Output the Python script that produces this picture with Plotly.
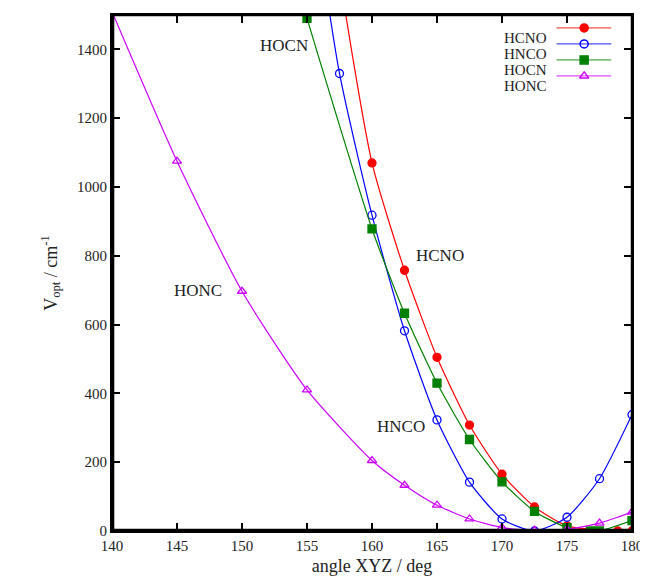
import plotly.graph_objects as go

# angle XYZ / deg and V_opt / cm-1
hcno_x = [155, 157.5, 160, 162.5, 165, 167.5, 170, 172.5, 175, 178.9, 180]
hcno_y = [2400, 1620, 1070, 758, 505, 308, 165, 70, 15, 0, 0]
hnco_x = [155, 157.5, 160, 162.5, 165, 167.5, 170, 172.5, 175, 177.5, 180]
hnco_y = [1950, 1330, 918, 582, 323, 142, 35, 0, 40, 152, 338]
hocn_x = [155, 160, 162.5, 165, 167.5, 170, 172.5, 175, 176.8, 177.5, 180]
hocn_y = [1490, 878, 633, 430, 266, 143, 57, 10, 0, 0, 30]
honc_x = [140, 145, 150, 155, 160, 162.5, 165, 167.5, 170, 172.5, 175, 177.5, 180]
honc_y = [1510, 1075, 697, 410, 205, 133, 75, 35, 10, 2, 5, 23, 55]

font = "Liberation Serif"
tc = "#222"
fig = go.Figure()
series = [
    ("HCNO", hcno_x, hcno_y, "#ff0000", "circle"),
    ("HNCO", hnco_x, hnco_y, "#0000ff", "circle-open"),
    ("HOCN", hocn_x, hocn_y, "#008000", "square"),
    ("HONC", honc_x, honc_y, "#cc00ff", "triangle-up-open"),
]
for i, (name, xs, ys, col, sym) in enumerate(series):
    fig.add_trace(go.Scatter(x=xs, y=ys, name=name, mode="lines+markers", showlegend=False,
                             line=dict(color=col, width=1.2, shape="spline", smoothing=0.6),
                             marker=dict(symbol=sym, size=8, color=col, line=dict(color=col, width=1.3))))
    # hand-made legend: text right-aligned, sample to its right
    ly = 0.975 - i * 0.031
    fig.add_annotation(xref="paper", yref="paper", x=0.84, y=ly, xanchor="right", text=name,
                       showarrow=False, font=dict(family=font, size=15, color=tc))
    fig.add_shape(type="line", xref="paper", yref="paper", x0=0.855, x1=0.96, y0=ly, y1=ly,
                  line=dict(color=col, width=1.2), opacity=0.7)
    fig.add_trace(go.Scatter(x=[0.908], y=[ly], xaxis="x2", yaxis="y2", mode="markers", showlegend=False,
                             marker=dict(symbol=sym, size=8, color=col, line=dict(color=col, width=1.5)),
                             hoverinfo="skip"))

for txt, x, y in [("HOCN", 153.2, 1410), ("HCNO", 165.2, 800), ("HONC", 146.6, 700), ("HNCO", 162.2, 305)]:
    fig.add_annotation(x=x, y=y, text=txt, showarrow=False, font=dict(family=font, size=17, color=tc))

ax = dict(showgrid=False, zeroline=False, mirror="ticks", ticks="inside", ticklen=8,
          showline=True, linecolor="black", linewidth=2, tickwidth=1.5, tickcolor="black",
          tickfont=dict(family=font, size=15, color=tc))
fig.update_xaxes(ax, range=[140, 180], dtick=5,
                 title=dict(text="angle XYZ / deg", font=dict(family=font, size=18, color=tc), standoff=6))
fig.update_yaxes(ax, range=[0, 1500], dtick=200,
                 title=dict(text="V<sub>opt</sub> / cm<sup>-1</sup>", font=dict(family=font, size=18, color=tc)))
e = 0.002
for x0, x1, y0, y1 in [(e, e, 0, 1), (1, 1, 0, 1), (0, 1, e, e), (0, 1, 1, 1)]:
    fig.add_shape(type="line", xref="paper", yref="paper", x0=x0, x1=x1, y0=y0, y1=y1,
                  line=dict(color="black", width=2.5), layer="above")
fig.update_layout(width=640, height=570, autosize=False, plot_bgcolor="white", paper_bgcolor="white",
                  margin=dict(l=104, r=16, t=5, b=40),
                  xaxis2=dict(overlaying="x", range=[0, 1], visible=False),
                  yaxis2=dict(overlaying="y", range=[0, 1], visible=False))
fig.write_html("out.html")
